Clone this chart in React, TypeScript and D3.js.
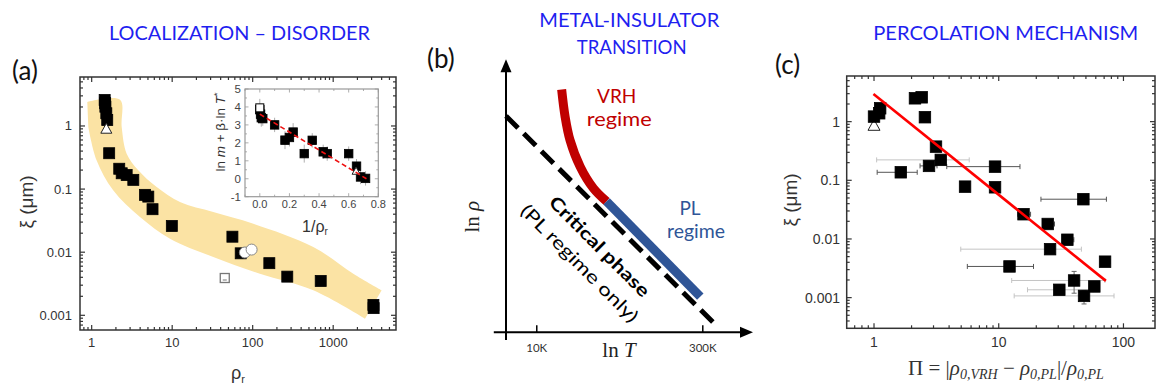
import React from 'react';
import * as d3 from 'd3';

// ---------- Panel (a): xi vs rho_r ----------
const aXTicks = [1, 10, 100, 1000];
const aXTickLabels = ['1', '10', '100', '1000'];
const aYTicks = [0.001, 0.01, 0.1, 1];
const aYTickLabels = ['0.001', '0.01', '0.1', '1'];
const aSqRho = [1.45, 1.47, 1.48, 1.52, 1.56, 1.65, 2.2, 2.36, 2.72, 3.29, 4.6, 5.05, 5.7, 9.9, 56, 71, 161, 269, 700, 3160, 3180];
const aSqXi = [2.58, 2.3, 2.02, 1.59, 1.24, 0.37, 0.21, 0.178, 0.167, 0.14, 0.081, 0.076, 0.048, 0.026, 0.0176, 0.0096, 0.0067, 0.0041, 0.0035, 0.00146, 0.0013];
const aTriRho = [1.52];
const aTriXi = [0.92];
const aCircRho = [80, 97];
const aCircXi = [0.0099, 0.011];
const aOpenSqRho = [45];
const aOpenSqXi = [0.0039];
// shaded band: upper edge (left to right) and lower edge (right to left)
const bandUpRho = [0.882, 2.25, 2.36, 2.72, 3.79, 6.42, 12.5, 32.4, 102, 566, 1778, 4000];
const bandUpXi = [2.4, 2.61, 0.964, 0.364, 0.199, 0.108, 0.0625, 0.0434, 0.0283, 0.0121, 0.00456, 0.00249];
const bandLoRho = [2483, 566, 123, 32.4, 9.4, 3.98, 1.85, 1.15, 0.908];
const bandLoXi = [0.000883, 0.00249, 0.00456, 0.0084, 0.0164, 0.0361, 0.0957, 0.286, 0.964];

// inset
const insXTicks = [0, 0.2, 0.4, 0.6, 0.8];
const insXTickLabels = ['0.0', '0.2', '0.4', '0.6', '0.8'];
const insYTicks = [-1, 0, 1, 2, 3, 4, 5];
const insX = [0.0, 0.005, 0.01, 0.02, 0.1, 0.17, 0.2, 0.225, 0.3, 0.354, 0.428, 0.455, 0.6, 0.653, 0.68, 0.714];
const insY = [3.85, 3.6, 3.4, 3.35, 3.0, 2.15, 2.3, 2.6, 1.4, 2.14, 1.5, 1.4, 1.4, 0.7, 0.1, 0.02];
const insErr = [0.6, 0.5, 0.5, 0.4, 0.4, 0.5, 0.5, 0.5, 0.5, 0.4, 0.4, 0.4, 0.4, 0.4, 0.4, 0.4];
const insOpenX = [0.0];
const insOpenY = [3.95];
const insTriX = [0.65];
const insTriY = [0.45];
const insFitX = [0.0, 0.72];
const insFitY = [3.6, 0.0];

// ---------- Panel (b): schematic ln rho vs ln T ----------
const bAxisT = [8.33, 13.64];
const bAxisR = [-0.16, 5.59];
const bTickT = [Math.log(1e4), Math.log(3e5)];
const bTickLabels = ['10K', '300K'];
const critT = [8.58, 12.83];
const critR = [4.43, 0.197];
const vrhT = [9.72, 9.79, 9.89, 10.1, 10.37, 10.64];
const vrhR = [4.97, 4.42, 3.94, 3.39, 2.95, 2.68];
const plT = [10.64, 12.56];
const plR = [2.68, 0.73];

// ---------- Panel (c): xi vs Pi ----------
const cXTicks = [1, 10, 100];
const cXTickLabels = ['1', '10', '100'];
const cYTicks = [0.001, 0.01, 0.1, 1];
const cYTickLabels = ['0.001', '0.01', '0.1', '1'];
const cPi = [1.0, 1.12, 1.1, 2.13, 2.41, 2.56, 3.14, 3.43, 2.76, 1.64, 9.34, 5.37, 9.34, 47.7, 15.8, 24.7, 35.5, 25.8, 71.2, 12.2, 40.2, 30.6, 58.4, 48.3];
const cXi = [1.22, 1.69, 1.39, 2.5, 2.6, 1.19, 0.375, 0.223, 0.176, 0.137, 0.171, 0.078, 0.076, 0.0476, 0.0264, 0.018, 0.0097, 0.0067, 0.0041, 0.0034, 0.00196, 0.00136, 0.00155, 0.00107];
const cLo = [0.93, 1.05, 1.04, 2.13, 2.41, 2.45, 2.95, 1.05, 2.34, 1.06, 3.83, 5.0, 9.0, 21.8, 14.2, 22.5, 32.5, 4.96, 66, 5.6, 12.7, 17, 58.4, 13.3];
const cHi = [1.07, 1.2, 1.16, 2.13, 2.41, 2.68, 3.35, 5.8, 3.2, 2.22, 14.8, 5.8, 9.7, 73, 18, 28, 40, 46, 78, 19, 71, 57, 58.4, 84];
const cLight = [0, 0, 0, 0, 0, 0, 0, 1, 0, 0, 0, 0, 0, 0, 0, 0, 0, 1, 0, 0, 1, 1, 0, 1];
const cYLo = [0, 0, 0, 0, 0, 0, 0, 0, 0, 0, 0, 0, 0, 0, 0, 0, 0, 0, 0, 0, 0.00119, 0, 0, 0.00078];
const cYHi = [0, 0, 0, 0, 0, 0, 0, 0, 0, 0, 0, 0, 0, 0, 0, 0, 0, 0, 0, 0, 0.0028, 0, 0, 0.0013];
const cTriPi = [1.0];
const cTriXi = [0.88];
const cFitPi = [0.99, 72.3];
const cFitXi = [2.96, 0.00193];

const SANS = "'Liberation Sans', Arial, sans-serif";
const CAL = "Lato, 'Open Sans', sans-serif";
const SERIF = "'Liberation Serif', 'DejaVu Serif', serif";
const TITLE_BLUE = '#1f1ff0';

const isMajorLog = (v: number) => Math.abs(Math.log10(v) - Math.round(Math.log10(v))) < 1e-6;

function LogFrame({ xs, ys, id }: any) {
  const [xl, xr] = xs.range();
  const [yb, yt] = ys.range();
  const els: any[] = [];
  xs.ticks().forEach((v: number, i: number) => {
    const x = xs(v);
    if (x < xl + 1 || x > xr - 1) return;
    const L = isMajorLog(v) ? 5 : 3;
    els.push(<line key={id + 'xb' + i} x1={x} x2={x} y1={yb} y2={yb - L} />);
    els.push(<line key={id + 'xt' + i} x1={x} x2={x} y1={yt} y2={yt + L} />);
  });
  ys.ticks().forEach((v: number, i: number) => {
    const y = ys(v);
    if (y > yb - 1 || y < yt + 1) return;
    const L = isMajorLog(v) ? 5 : 3;
    els.push(<line key={id + 'yl' + i} x1={xl} x2={xl + L} y1={y} y2={y} />);
    els.push(<line key={id + 'yr' + i} x1={xr} x2={xr - L} y1={y} y2={y} />);
  });
  return (
    <g stroke="#333" strokeWidth={1.2} fill="none">
      {els}
      <rect x={xl} y={yt} width={xr - xl} height={yb - yt} strokeWidth={1.5} />
    </g>
  );
}

function Square({ x, y, s, fill = '#000', stroke = '#000' }: any) {
  return <rect x={x - s / 2} y={y - s / 2} width={s} height={s} fill={fill} stroke={stroke} strokeWidth={0.8} />;
}

function Tri({ x, y, s, stroke = '#222' }: any) {
  const h = s * 0.9;
  return <path d={`M${x},${y - h / 2}L${x + s / 2},${y + h / 2}L${x - s / 2},${y + h / 2}Z`} fill="#fff" stroke={stroke} strokeWidth={1} />;
}

export default function App() {
  const ax = d3.scaleLog().domain([0.716, 6030]).range([80, 396]);
  const ay = d3.scaleLog().domain([0.000585, 5.97]).range([330, 77]);
  const ix = d3.scaleLinear().domain([-0.1, 0.8]).range([245, 378.3]);
  const iy = d3.scaleLinear().domain([-1, 5]).range([196.7, 89]);
  const bx = d3.scaleLinear().domain([8.58, 13.64]).range([506, 753]);
  const by = d3.scaleLinear().domain([0, 5.59]).range([332.3, 59.3]);
  const cx = d3.scaleLog().domain([0.604, 179]).range([846.7, 1155]);
  const cy = d3.scaleLog().domain([0.0003, 6.0]).range([328.3, 76]);

  const idx = (n: number) => d3.range(n);
  const upPath =
    d3
      .line<number>()
      .x((i) => ax(bandUpRho[i]))
      .y((i) => ay(bandUpXi[i]))
      .curve(d3.curveCatmullRom.alpha(0.5))(idx(bandUpRho.length)) || '';
  const loPath =
    d3
      .line<number>()
      .x((i) => ax(bandLoRho[i]))
      .y((i) => ay(bandLoXi[i]))
      .curve(d3.curveCatmullRom.alpha(0.5))(idx(bandLoRho.length)) || '';
  const bandPath = upPath + 'L' + loPath.slice(1) + 'Z';

  const vrhPath = d3
    .line<number>()
    .x((i) => bx(vrhT[i]))
    .y((i) => by(vrhR[i]))
    .curve(d3.curveCatmullRom.alpha(0.5))(idx(vrhT.length));

  // inset ticks
  const insMinorX = d3.range(-0.1, 0.81, 0.1);
  const insMinorY = d3.range(-1, 5.01, 0.5);

  // axis arrows in (b)
  const bX0 = bx(bAxisT[0]);
  const bX1 = bx(bAxisT[1]);
  const bY0 = by(bAxisR[0]);
  const bY1 = by(bAxisR[1]);
  const bOx = bx(critT[0]);
  const bOy = by(0);

  return (
    <svg width={1160} height={387} style={{ position: 'absolute', left: 0, top: 0, background: '#fff' }}>
      <rect x={0} y={0} width={1160} height={387} fill="#fff" />

      {/* ================= Panel (a) ================= */}
      <text x={239.5} y={40} fontFamily={CAL} fontSize={20} fill={TITLE_BLUE} textAnchor="middle" textLength={261} lengthAdjust="spacingAndGlyphs">
        LOCALIZATION – DISORDER
      </text>
      <text x={12} y={80} fontFamily={CAL} fontSize={26} fill="#111">(a)</text>

      <path d={bandPath} fill="#fbe3a4" stroke="none" />

      <LogFrame xs={ax} ys={ay} id="a" />
      {aXTicks.map((v, i) => (
        <text key={'axl' + i} x={ax(v)} y={347} fontFamily={SANS} fontSize={13} fill="#333" textAnchor="middle">{aXTickLabels[i]}</text>
      ))}
      {aYTicks.map((v, i) => (
        <text key={'ayl' + i} x={72} y={ay(v) + 4.5} fontFamily={SANS} fontSize={13} fill="#333" textAnchor="end">{aYTickLabels[i]}</text>
      ))}
      <text transform="translate(33,202) rotate(-90)" fontFamily={SANS} fontSize={19} fill="#333" textAnchor="middle">
        ξ (μm)
      </text>
      <text x={238} y={379} fontFamily={SANS} fontSize={18} fill="#333" textAnchor="middle">
        ρ<tspan fontSize={11} dy={4}>r</tspan>
      </text>

      {/* markers (a) */}
      {aOpenSqRho.map((v, i) => (
        <g key={'aos' + i}>
          <rect x={ax(v) - 4.5} y={ay(aOpenSqXi[i]) - 4.5} width={9} height={9} fill="#fff" stroke="#777" strokeWidth={1.3} />
          <line x1={ax(v) - 2} x2={ax(v) + 2} y1={ay(aOpenSqXi[i]) + 2} y2={ay(aOpenSqXi[i]) + 2} stroke="#777" strokeWidth={1} />
        </g>
      ))}
      {aSqRho.map((v, i) => (
        <Square key={'asq' + i} x={ax(v)} y={ay(aSqXi[i])} s={11} />
      ))}
      {aTriRho.map((v, i) => (
        <Tri key={'atr' + i} x={ax(v)} y={ay(aTriXi[i])} s={11} />
      ))}
      {aCircRho.map((v, i) => (
        <circle key={'aci' + i} cx={ax(v)} cy={ay(aCircXi[i])} r={5.5} fill="#fff" stroke="#888" strokeWidth={1} />
      ))}

      {/* inset */}
      <g>
        <rect x={245} y={89} width={133.3} height={107.7} fill="#fff" stroke="#999" strokeWidth={1.2} />
        {insMinorX.map((v, i) => {
          const maj = Math.abs(v * 5 - Math.round(v * 5)) < 1e-6;
          const L = maj ? 3.5 : 2;
          return (
            <g key={'imx' + i} stroke="#999" strokeWidth={0.8}>
              <line x1={ix(v)} x2={ix(v)} y1={196.7} y2={196.7 - L} />
              <line x1={ix(v)} x2={ix(v)} y1={89} y2={89 + L} />
            </g>
          );
        })}
        {insMinorY.map((v, i) => {
          const maj = Math.abs(v - Math.round(v)) < 1e-6;
          const L = maj ? 3.5 : 2;
          return (
            <g key={'imy' + i} stroke="#999" strokeWidth={0.8}>
              <line x1={245} x2={245 + L} y1={iy(v)} y2={iy(v)} />
              <line x1={378.3} x2={378.3 - L} y1={iy(v)} y2={iy(v)} />
            </g>
          );
        })}
        {insXTicks.map((v, i) => (
          <text key={'ixl' + i} x={ix(v)} y={207.5} fontFamily={SANS} fontSize={11} fill="#444" textAnchor="middle">{insXTickLabels[i]}</text>
        ))}
        {insYTicks.map((v, i) => (
          <text key={'iyl' + i} x={241} y={iy(v) + 4} fontFamily={SANS} fontSize={11.5} fill="#444" textAnchor="end">{String(v)}</text>
        ))}
        <text transform="translate(225,132) rotate(-90)" fontFamily={SANS} fontSize={13.5} fill="#333" textAnchor="middle">
          ln <tspan fontStyle="italic">m</tspan> + β·ln <tspan fontStyle="italic">T</tspan>
          <tspan fontSize={9} dy={-5}>*</tspan>
        </text>
        <text x={315} y={232} fontFamily={SANS} fontSize={16} fill="#333" textAnchor="middle">
          1/ρ<tspan fontSize={10} dy={3}>r</tspan>
        </text>
        {insX.map((v, i) => (
          <line key={'ier' + i} x1={ix(v)} x2={ix(v)} y1={iy(insY[i] - insErr[i])} y2={iy(insY[i] + insErr[i])} stroke="#999" strokeWidth={0.8} />
        ))}
        {insX.map((v, i) => (
          <Square key={'isq' + i} x={ix(v)} y={iy(insY[i])} s={8.5} />
        ))}
        {insOpenX.map((v, i) => (
          <rect key={'ios' + i} x={ix(v) - 4} y={iy(insOpenY[i]) - 4} width={8} height={8} fill="#fff" stroke="#000" strokeWidth={1} />
        ))}
        {insTriX.map((v, i) => (
          <Tri key={'itr' + i} x={ix(v)} y={iy(insTriY[i])} s={8} />
        ))}
        <line x1={ix(insFitX[0])} y1={iy(insFitY[0])} x2={ix(insFitX[1])} y2={iy(insFitY[1])} stroke="#ee1111" strokeWidth={1.6} strokeDasharray="5 3" />
      </g>

      {/* ================= Panel (b) ================= */}
      <text x={629.3} y={27} fontFamily={CAL} fontSize={20} fill={TITLE_BLUE} textAnchor="middle" textLength={180} lengthAdjust="spacingAndGlyphs">
        METAL-INSULATOR
      </text>
      <text x={631.7} y={54} fontFamily={CAL} fontSize={20} fill={TITLE_BLUE} textAnchor="middle" textLength={110} lengthAdjust="spacingAndGlyphs">
        TRANSITION
      </text>
      <text x={427} y={68} fontFamily={CAL} fontSize={26} fill="#111">(b)</text>

      {/* axes */}
      <g stroke="#000" strokeWidth={2}>
        <line x1={bX0} x2={bX1 - 8} y1={bOy} y2={bOy} />
        <line x1={bOx} x2={bOx} y1={bY0} y2={bY1 + 8} />
      </g>
      <path d={`M${bX1},${bOy}L${bX1 - 13},${bOy - 5.5}L${bX1 - 13},${bOy + 5.5}Z`} fill="#000" />
      <path d={`M${bOx},${bY1}L${bOx - 5.5},${bY1 + 13}L${bOx + 5.5},${bY1 + 13}Z`} fill="#000" />
      {bTickT.map((v, i) => (
        <g key={'bt' + i}>
          <line x1={bx(v)} x2={bx(v)} y1={bOy} y2={bOy - 7} stroke="#000" strokeWidth={1.5} />
          <text x={bx(v)} y={352} fontFamily={CAL} fontSize={11.5} fill="#333" textAnchor="middle">{bTickLabels[i]}</text>
        </g>
      ))}
      <text x={619} y={357} fontFamily={SERIF} fontSize={21} fill="#222" textAnchor="middle">
        ln <tspan fontStyle="italic">T</tspan>
      </text>
      <text transform="translate(479,216.7) rotate(-90)" fontFamily={SERIF} fontSize={21} fill="#222" textAnchor="middle">
        ln <tspan fontStyle="italic">ρ</tspan>
      </text>

      {/* critical line */}
      <line x1={bx(critT[0])} y1={by(critR[0])} x2={bx(critT[1])} y2={by(critR[1])} stroke="#000" strokeWidth={5} strokeDasharray="17 8" />
      <path d={vrhPath || ''} fill="none" stroke="#c00000" strokeWidth={9} />
      <line x1={bx(plT[0])} y1={by(plR[0])} x2={bx(plT[1])} y2={by(plR[1])} stroke="#2f5597" strokeWidth={9} />

      <text x={616.7} y={103} fontFamily={CAL} fontSize={19} fill="#c00000" textAnchor="middle">VRH</text>
      <text x={619.2} y={126} fontFamily={CAL} fontSize={19} fill="#c00000" textAnchor="middle" textLength={65} lengthAdjust="spacingAndGlyphs">regime</text>
      <text x={690} y={215} fontFamily={CAL} fontSize={19} fill="#2f5597" textAnchor="middle">PL</text>
      <text x={696} y={238} fontFamily={CAL} fontSize={19} fill="#2f5597" textAnchor="middle" textLength={58} lengthAdjust="spacingAndGlyphs">regime</text>

      <text transform="translate(600,246) rotate(45)" fontFamily={CAL} fontSize={18} fontWeight="bold" fill="#000" textAnchor="middle" dominantBaseline="central" textLength={134} lengthAdjust="spacingAndGlyphs">
        Critical phase
      </text>
      <text transform="translate(580,263) rotate(45)" fontFamily={CAL} fontSize={18} fill="#000" textAnchor="middle" dominantBaseline="central" textLength={158} lengthAdjust="spacingAndGlyphs">
        (PL regime only)
      </text>

      {/* ================= Panel (c) ================= */}
      <text x={1005.8} y={39.5} fontFamily={CAL} fontSize={20} fill={TITLE_BLUE} textAnchor="middle" textLength={265} lengthAdjust="spacingAndGlyphs">
        PERCOLATION MECHANISM
      </text>
      <text x={775} y={74} fontFamily={CAL} fontSize={26} fill="#111">(c)</text>

      <LogFrame xs={cx} ys={cy} id="c" />
      {cXTicks.map((v, i) => (
        <text key={'cxl' + i} x={cx(v)} y={347} fontFamily={SANS} fontSize={14} fill="#333" textAnchor="middle">{cXTickLabels[i]}</text>
      ))}
      {cYTicks.map((v, i) => (
        <text key={'cyl' + i} x={840} y={cy(v) + 5} fontFamily={SANS} fontSize={14} fill="#333" textAnchor="end">{cYTickLabels[i]}</text>
      ))}
      <text transform="translate(797,200) rotate(-90)" fontFamily={SANS} fontSize={19} fill="#333" textAnchor="middle">
        ξ (μm)
      </text>
      <text x={1006} y={375} fontFamily={SERIF} fontSize={21} fill="#333" textAnchor="middle">
        Π = |<tspan fontStyle="italic">ρ</tspan>
        <tspan fontSize={14} dy={4} fontStyle="italic">0,VRH</tspan>
        <tspan dy={-4}> − </tspan>
        <tspan fontStyle="italic">ρ</tspan>
        <tspan fontSize={14} dy={4} fontStyle="italic">0,PL</tspan>
        <tspan dy={-4}>|/</tspan>
        <tspan fontStyle="italic">ρ</tspan>
        <tspan fontSize={14} dy={4} fontStyle="italic">0,PL</tspan>
      </text>

      {/* error bars */}
      {cPi.map((v, i) => {
        if (cLo[i] === cHi[i]) return null;
        const col = cLight[i] ? '#c4c4c4' : '#555';
        const y = cy(cXi[i]);
        return (
          <g key={'cer' + i} stroke={col} strokeWidth={1}>
            <line x1={cx(cLo[i])} x2={cx(cHi[i])} y1={y} y2={y} />
            <line x1={cx(cLo[i])} x2={cx(cLo[i])} y1={y - 2.5} y2={y + 2.5} />
            <line x1={cx(cHi[i])} x2={cx(cHi[i])} y1={y - 2.5} y2={y + 2.5} />
          </g>
        );
      })}
      {cPi.map((v, i) => {
        if (!cYLo[i]) return null;
        const x = cx(v);
        return (
          <g key={'cey' + i} stroke="#666" strokeWidth={1}>
            <line x1={x} x2={x} y1={cy(cYLo[i])} y2={cy(cYHi[i])} />
            <line x1={x - 2.5} x2={x + 2.5} y1={cy(cYLo[i])} y2={cy(cYLo[i])} />
            <line x1={x - 2.5} x2={x + 2.5} y1={cy(cYHi[i])} y2={cy(cYHi[i])} />
          </g>
        );
      })}
      {cTriPi.map((v, i) => (
        <g key={'ctr' + i}>
          <line x1={cx(v)} x2={cx(v)} y1={cy(0.72)} y2={cy(1.05)} stroke="#777" strokeWidth={1} />
          <Tri x={cx(v)} y={cy(cTriXi[i])} s={12} />
        </g>
      ))}
      {cPi.map((v, i) => (
        <Square key={'csq' + i} x={cx(v)} y={cy(cXi[i])} s={11.5} />
      ))}
      <line x1={cx(cFitPi[0])} y1={cy(cFitXi[0])} x2={cx(cFitPi[1])} y2={cy(cFitXi[1])} stroke="#ff0000" strokeWidth={2.6} />
    </svg>
  );
}
